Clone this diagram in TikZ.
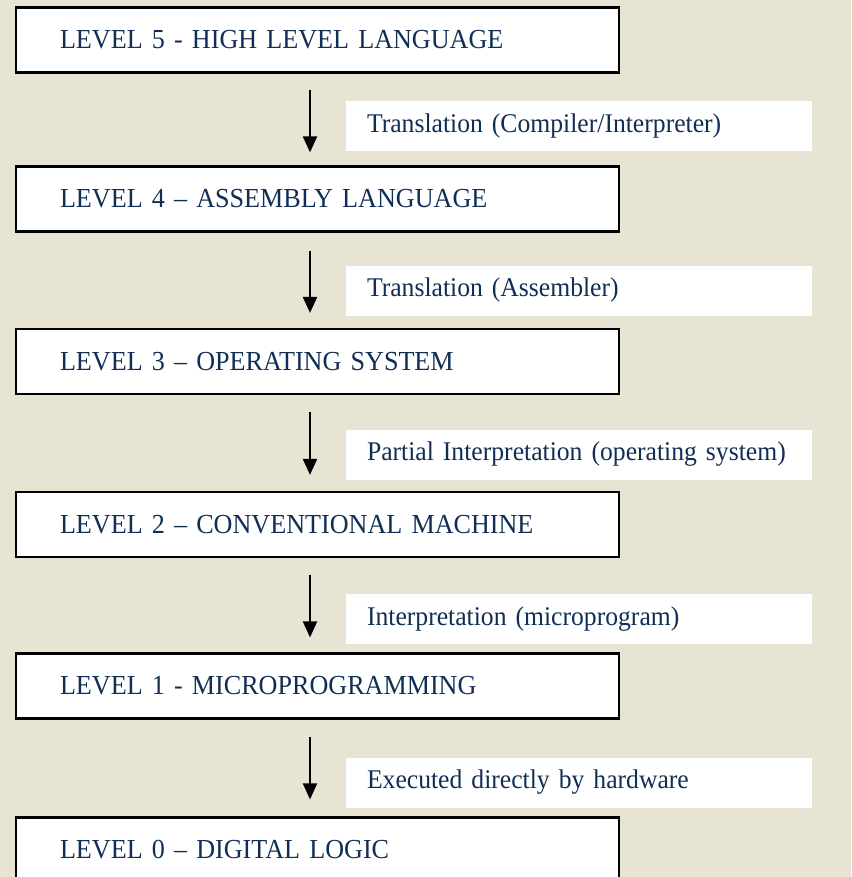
\documentclass[tikz,border=0pt]{standalone}
\usepackage{fontspec}
\setmainfont{Liberation Serif}[FakeStretch=0.95, WordSpace=0.7]
\usetikzlibrary{arrows.meta}
\definecolor{bgc}{RGB}{232,228,211}
\definecolor{txt}{RGB}{16,46,86}
\tikzset{
  lvl/.style={draw=black, line width=2.2pt, fill=white, minimum width=603pt, minimum height=65pt,
    text width=515pt, inner xsep=44pt, align=left, text=txt, font=\fontsize{27.5}{31}\selectfont},
  lbl/.style={fill=white, draw=none, minimum width=466pt, minimum height=50pt,
    text width=424pt, inner xsep=21pt, align=left, text=txt, font=\fontsize{27}{31}\selectfont},
  arr/.style={line width=2pt, -{Triangle[length=16pt,width=14pt]}}
}
\begin{document}
\begin{tikzpicture}[x=1pt,y=-1pt]
\useasboundingbox (0,0) rectangle (851,877);
\fill[bgc] (0,0) rectangle (851,877);
\node[lvl] (b5) at (317.5,40) {LEVEL 5 - HIGH LEVEL LANGUAGE};
\node[lvl] (b4) at (317.5,199) {LEVEL 4 – ASSEMBLY LANGUAGE};
\node[lvl] (b3) at (317.5,361.5) {LEVEL 3 – OPERATING SYSTEM};
\node[lvl] (b2) at (317.5,524.5) {LEVEL 2 – CONVENTIONAL MACHINE};
\node[lvl] (b1) at (317.5,686) {LEVEL 1 - MICROPROGRAMMING};
\node[lvl] (b0) at (317.5,850) {LEVEL 0 – DIGITAL LOGIC};
\node[lbl] (l1) at (579,126) {\mbox{Translation (Compiler/Interpreter)}};
\node[lbl] (l2) at (579,290.5) {\mbox{Translation (Assembler)}};
\node[lbl] (l3) at (579,454.5) {\mbox{Partial Interpretation (operating system)}};
\node[lbl] (l4) at (579,619) {\mbox{Interpretation (microprogram)}};
\node[lbl] (l5) at (579,782.5) {\mbox{Executed directly by hardware}};
\draw[arr] ([xshift=-7.5pt,yshift=-16pt]b5.south) -- ([xshift=-7.5pt,yshift=13pt]b4.north);
\draw[arr] ([xshift=-7.5pt,yshift=-18pt]b4.south) -- ([xshift=-7.5pt,yshift=15pt]b3.north);
\draw[arr] ([xshift=-7.5pt,yshift=-17pt]b3.south) -- ([xshift=-7.5pt,yshift=16pt]b2.north);
\draw[arr] ([xshift=-7.5pt,yshift=-17pt]b2.south) -- ([xshift=-7.5pt,yshift=15pt]b1.north);
\draw[arr] ([xshift=-7.5pt,yshift=-17pt]b1.south) -- ([xshift=-7.5pt,yshift=17pt]b0.north);
\end{tikzpicture}
\end{document}
